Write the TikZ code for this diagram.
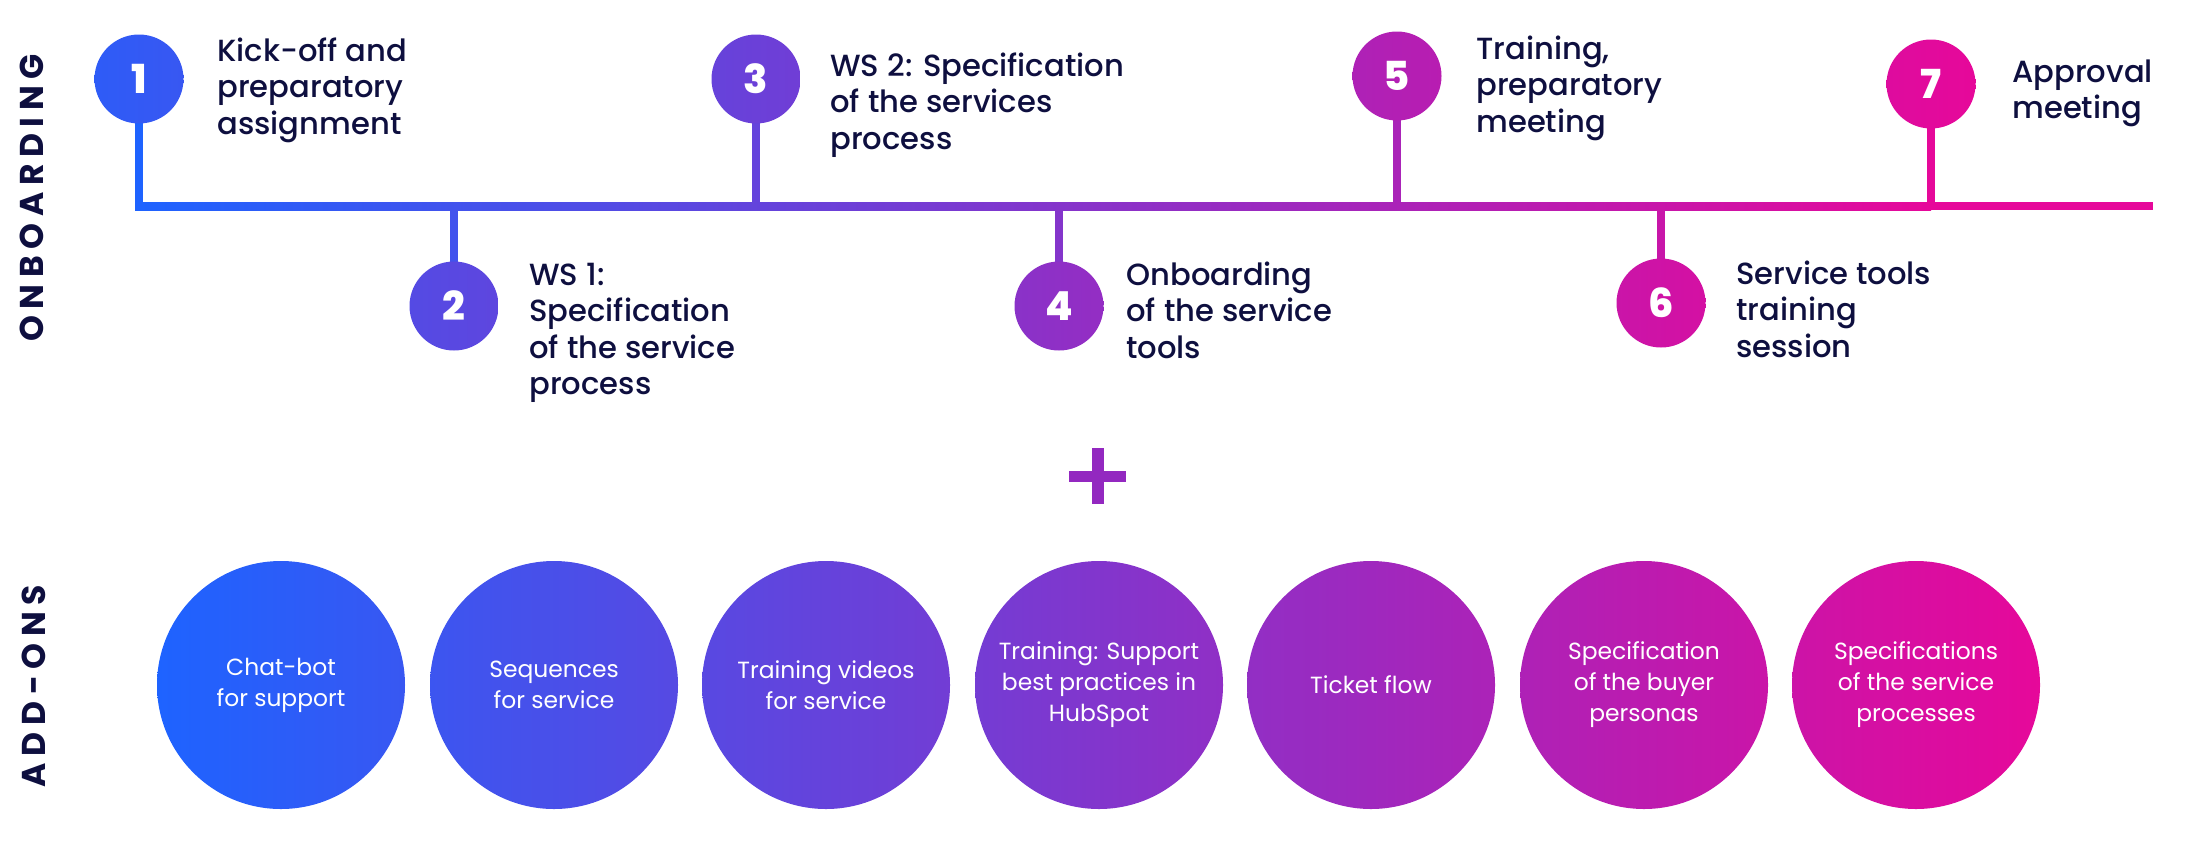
\documentclass[tikz,border=0pt]{standalone}
\usepackage{fontspec}
\setmainfont{Poppins}
\IfFontExistsTF{Poppins Medium}{\newfontfamily\labfont{Poppins Medium}}{\newfontfamily\labfont{Poppins}}
\IfFontExistsTF{Poppins ExtraBold}{\newfontfamily\numfont{Poppins ExtraBold}}{\newfontfamily\numfont{Poppins}[UprightFont=*-Bold]}
\definecolor{gS}{HTML}{1E63FF}
\definecolor{gE}{HTML}{E6089A}
\definecolor{ink}{HTML}{0E0F3F}
\definecolor{plusc}{HTML}{9328C0}
\newcommand{\labstack}[1]{\begin{tabular}[t]{@{}l@{}}#1\end{tabular}}
\begin{document}
\begin{tikzpicture}[x=0.5pt,y=-0.5pt,
  numc/.style={circle, minimum size=44.5pt, inner sep=0pt, text=white, font=\numfont\fontsize{20}{20}\selectfont},
  lbl/.style={anchor=base west, inner sep=0pt, text=ink, font=\labfont\fontsize{15.3}{18.25}\selectfont},
  addon/.style={circle, minimum size=124pt, inner sep=0pt, text=white, align=center, font=\fontsize{11.7}{15.5}\selectfont},
  stemline/.style={line width=3.75pt},
  side/.style={rotate=90, text=ink, inner sep=0pt, font=\bfseries\fontsize{16.5}{16.5}\selectfont\addfontfeatures{LetterSpace=20}}
]
\useasboundingbox (0,0) rectangle (2200,852);
% timeline coordinates
\coordinate (lnA) at (135,202);
\coordinate (lnM) at (1931,210);
\coordinate (lnMt) at (1931,202);
\coordinate (lnC) at (2153,210);
\coordinate (ln) at (0,206);
% circle positions
\coordinate (p1) at (139,79);
\coordinate (p2) at (454,306);
\coordinate (p3) at (756,79);
\coordinate (p4) at (1059,306);
\coordinate (p5) at (1397,76);
\coordinate (p6) at (1661,303);
\coordinate (p7) at (1931,84);
% stems
\draw[stemline, color=gS] (p1) -- (p1 |- lnM);
\draw[stemline, color=gE!18!gS] (p2) -- (p2 |- ln);
\draw[stemline, color=gE!35!gS] (p3) -- (p3 |- ln);
\draw[stemline, color=gE!51!gS] (p4) -- (p4 |- ln);
\draw[stemline, color=gE!70!gS] (p5) -- (p5 |- ln);
\draw[stemline, color=gE!85!gS] (p6) -- (p6 |- ln);
\draw[stemline, color=gE] (p7) -- (p7 |- ln);
% main line
\shade[left color=gS, right color=gE] (lnA) rectangle (lnM);
\fill[gE] (lnMt) rectangle (lnC);
% numbered circles
\node[numc, left color=gE!8!gS, right color=gE!13!gS] (c1) at (p1) {1};
\node[numc, left color=gE!27!gS, right color=gE!32!gS] (c2) at (p2) {2};
\node[numc, left color=gE!36!gS, right color=gE!41!gS] (c3) at (p3) {3};
\node[numc, left color=gE!54!gS, right color=gE!59!gS] (c4) at (p4) {4};
\node[numc, left color=gE!72!gS, right color=gE!77!gS] (c5) at (p5) {5};
\node[numc, left color=gE!86!gS, right color=gE!91!gS] (c6) at (p6) {6};
\node[numc, left color=gE!96!gS, right color=gE] (c7) at (p7) {7};
% labels
\node[lbl] (t1) at (217,61) {\labstack{Kick-off and\\preparatory\\assignment}};
\node[lbl] (t2) at (529,285) {\labstack{WS 1:\\Specification\\of the service\\process}};
\node[lbl] (t3) at (830,76) {\labstack{WS 2: Specification\\of the services\\process}};
\node[lbl] (t4) at (1126,285) {\labstack{Onboarding\\of the service\\tools}};
\node[lbl] (t5) at (1476,59) {\labstack{Training,\\preparatory\\meeting}};
\node[lbl] (t6) at (1736,284) {\labstack{Service tools\\training\\session}};
\node[lbl] (t7) at (2012,82) {\labstack{Approval\\meeting}};
% side labels
\node[side] (onb) at (32,198) {ONBOARDING};
\node[side] (add) at (34,686) {ADD-ONS};
% plus sign
\fill[plusc] (1069,470.5) rectangle (1126,481.5);
\fill[plusc] (1091.5,448) rectangle (1103.5,504);
% add-on circles
\node[addon, left color=gS, right color=gE!13!gS] (a1) at (281,685) {Chat-bot\\for support};
\node[addon, left color=gE!15!gS, right color=gE!28!gS] (a2) at (554,685) {Sequences\\for service};
\node[addon, left color=gE!29!gS, right color=gE!42!gS] (a3) at (826,685) {Training videos\\for service};
\node[addon, left color=gE!43!gS, right color=gE!57!gS] (a4) at (1099,685) {Training: Support\\best practices in\\HubSpot};
\node[addon, left color=gE!58!gS, right color=gE!71!gS] (a5) at (1371,685) {Ticket flow};
\node[addon, left color=gE!72!gS, right color=gE!86!gS] (a6) at (1644,685) {Specification\\of the buyer\\personas};
\node[addon, left color=gE!87!gS, right color=gE] (a7) at (1916,685) {Specifications\\of the service\\processes};
\end{tikzpicture}
\end{document}
